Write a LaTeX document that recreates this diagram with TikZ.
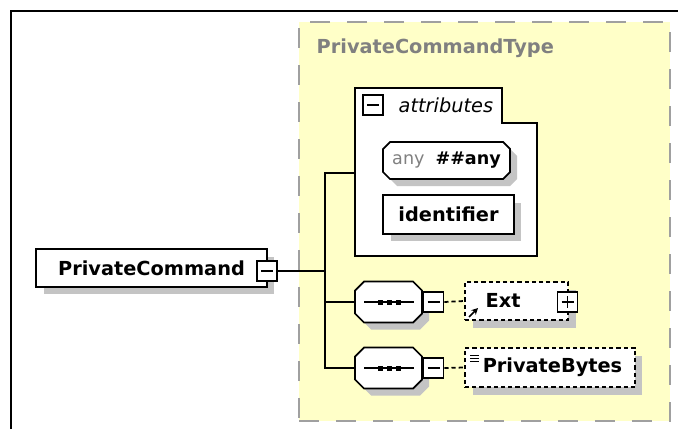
\documentclass[tikz,border=0pt]{standalone}
\usepackage{fontspec}
\setmainfont{DejaVu Sans}
\usepackage{tikz}
\usetikzlibrary{shadows}
\usetikzlibrary{arrows.meta}

\definecolor{typefill}{HTML}{FFFFC8}
\definecolor{typeline}{HTML}{A0A0A0}
\definecolor{typetext}{HTML}{808080}
\definecolor{shadowgrey}{HTML}{C4C4C4}

% octagon behind a compositor node: x1,y1,x2,y2,chamfer
\newcommand{\chamferbox}[5]{%
	\fill[shadowgrey,shift={(7,7)}] (#1+#5,#2) -- (#3-#5,#2) -- (#3,#2+#5) -- (#3,#4-#5) -- (#3-#5,#4) -- (#1+#5,#4) -- (#1,#4-#5) -- (#1,#2+#5) -- cycle;
	\draw[fill=white] (#1+#5,#2) -- (#3-#5,#2) -- (#3,#2+#5) -- (#3,#4-#5) -- (#3-#5,#4) -- (#1+#5,#4) -- (#1,#4-#5) -- (#1,#2+#5) -- cycle;
}

\begin{document}
\begin{tikzpicture}[x=0.02cm,y=-0.02cm,line width=1pt,
	font=\fontsize{11}{13}\selectfont,
	shade/.style={drop shadow={shadow xshift=0.15cm,shadow yshift=-0.15cm,fill=shadowgrey,opacity=1}},
	element/.style={rectangle,draw,fill=white,inner sep=0pt,font=\fontsize{11}{13}\selectfont\bfseries},
	optional/.style={element,dash pattern=on 2.4pt off 1.7pt},
	compositor/.style={rectangle,inner sep=0pt},
	minus/.style={rectangle,draw,fill=white,minimum size=0.4cm,inner sep=0pt,line width=0.9pt,
		path picture={\draw[line width=0.8pt] ([xshift=0.08cm]path picture bounding box.west) -- ([xshift=-0.08cm]path picture bounding box.east);}},
	plus/.style={rectangle,draw,fill=white,minimum size=0.4cm,inner sep=0pt,line width=0.9pt,
		path picture={\draw[line width=0.8pt] ([xshift=0.08cm]path picture bounding box.west) -- ([xshift=-0.08cm]path picture bounding box.east);
			\draw[line width=0.8pt] ([yshift=-0.08cm]path picture bounding box.north) -- ([yshift=0.08cm]path picture bounding box.south);}}]
	\useasboundingbox (0,0) rectangle (678,429);
	% frame
	\draw[line width=1.4pt] (11,429) -- (11,11) -- (678,11);

	% complex type
	\node (type)[rectangle,fill=typefill,draw=typeline,line width=1.2pt,dash pattern=on 0.4cm off 0.34cm,minimum width=7.42cm,minimum height=7.98cm] at (484.5,221.5) {};
	\node (typename)[anchor=west,text=typetext,font=\fontsize{11}{13}\selectfont\bfseries] at (310,48) {PrivateCommandType};

	% attributes
	\draw[fill=white] (355,256) -- (355,88) -- (502,88) -- (502,123) -- (537,123) -- (537,256) -- cycle;
	\coordinate (attrin) at (355,173);
	\node (attrtoggle)[minus] at (373,105) {};
	\node (attrname)[anchor=west,font=\fontsize{11}{13}\selectfont\itshape] at (392,105) {attributes};
	\chamferbox{383}{142}{510}{179}{7}
	\node (anyattr)[compositor,minimum width=2.54cm,minimum height=0.74cm,font=\fontsize{10}{12}\selectfont] at (446.5,160.5)
		{\textcolor{gray}{any}\hspace{0.22cm}\textbf{\#\#any}};
	\node (ident)[element,shade,minimum width=2.62cm,minimum height=0.78cm] at (448.5,214.5) {identifier};

	% element
	\node (pc)[element,shade,minimum width=4.62cm,minimum height=0.76cm] at (151.5,268) {PrivateCommand};
	\node (pctoggle)[minus] at (267,271) {};
	\coordinate (fork) at (325,271);

	% sequences
	\foreach \row/\rowy in {1/302,2/368}{
		\chamferbox{355}{\rowy-20.5}{422}{\rowy+20.5}{9}
		\node (seq\row)[compositor,minimum width=1.34cm,minimum height=0.82cm] at (388.5,\rowy) {};
		\draw[line width=0.9pt] (364,\rowy) -- (414,\rowy);
		\foreach \dx in {380,389,398}{
			\fill (\dx-2.5,\rowy-2.5) rectangle +(5,5);
		}
		\node (seqtoggle\row)[minus] at (433.5,\rowy) {};
	}

	\node (ext)[optional,shade,minimum width=2.06cm,minimum height=0.76cm] at (516.5,301) {};
	\node (extname)[anchor=west,font=\fontsize{11}{13}\selectfont\bfseries] at (479,300) {Ext};
	\node (exttoggle)[plus] at (567.5,302) {};
	\draw[-{Stealth[length=0.13cm,width=0.13cm]},line width=0.9pt] (469,317) -- (478,308);

	\node (bytes)[optional,shade,minimum width=3.4cm,minimum height=0.78cm] at (550,367.5) {\hspace{0.1cm}PrivateBytes};
	\foreach \ly in {355,358,361}{
		\draw[line width=0.5pt] (470,\ly) -- (479,\ly);
	}

	% connectors
	\draw (pctoggle.east) -- (fork);
	\draw (attrin) -- (attrin -| fork) -- (fork |- seq2.west) -- (seq2.west);
	\draw (fork |- seq1.west) -- (seq1.west);
	\draw[dash pattern=on 2.4pt off 1.7pt] (seqtoggle1.east) -- (ext.west);
	\draw[dash pattern=on 2.4pt off 1.7pt] (seqtoggle2.east) -- (bytes.west);
\end{tikzpicture}
\end{document}
